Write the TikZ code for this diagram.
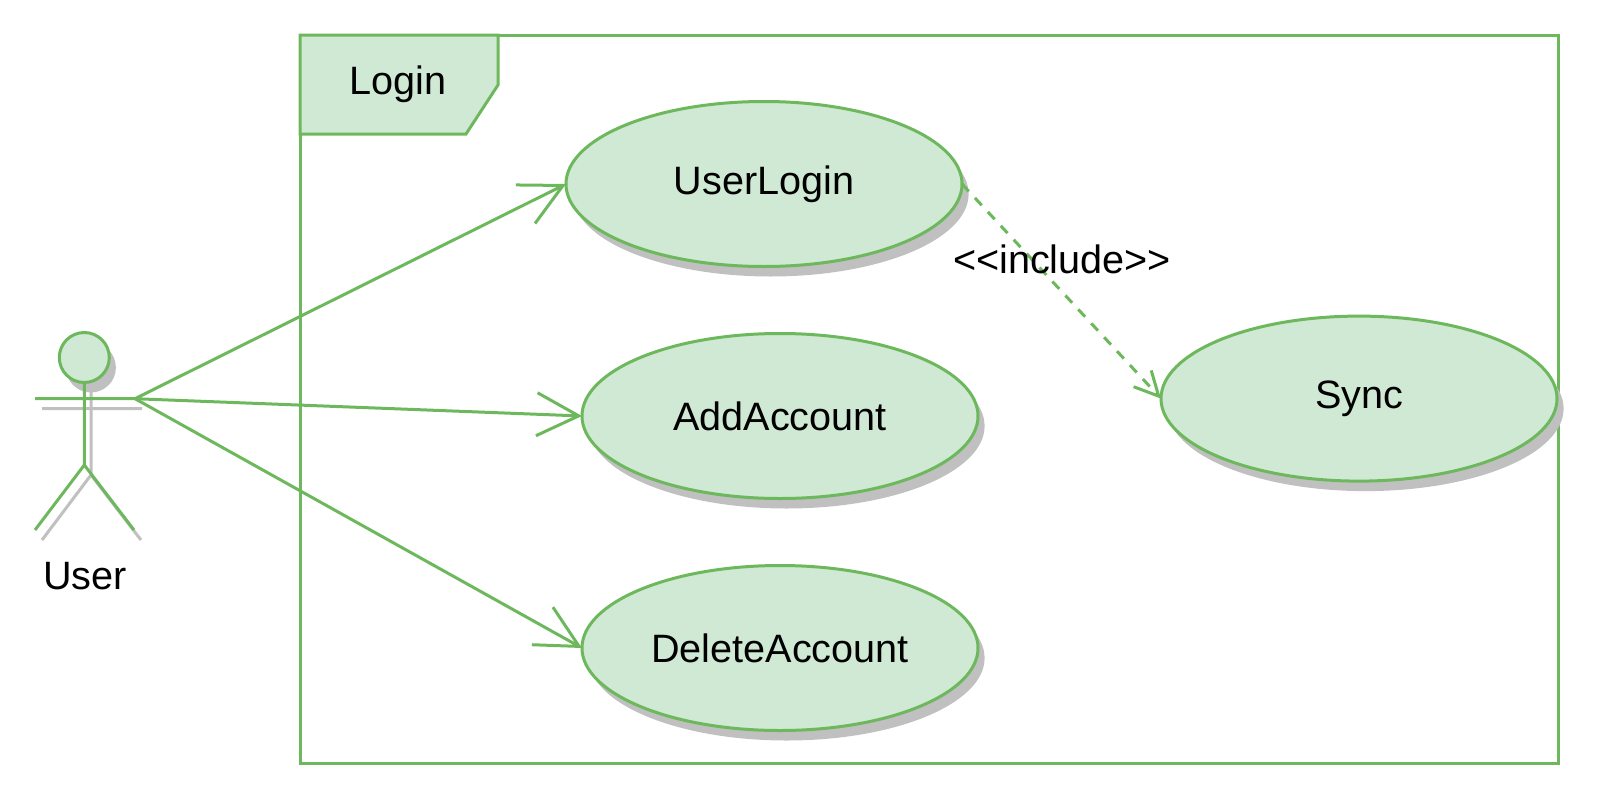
\documentclass[tikz,border=0pt]{standalone}
\usepackage{fontspec}
\setmainfont{Liberation Sans}
\usetikzlibrary{shapes.geometric,arrows.meta,shadows}
\definecolor{umlgreen}{HTML}{6DB85C}
\definecolor{umlfill}{HTML}{D0E9D4}
\definecolor{umlshadow}{HTML}{C0C0C0}

\begin{document}
\begin{tikzpicture}[x=0.5pt,y=-0.5pt,node distance=116pt,font=\fontsize{19.8pt}{23pt}\selectfont]
\tikzstyle{usecase} = [ellipse, draw=umlgreen, fill=umlfill, line width=1.5pt, minimum width=198pt, minimum height=82.5pt, inner sep=0pt, outer sep=0pt, drop shadow={shadow xshift=3.3pt, shadow yshift=-5pt, fill=umlshadow, opacity=1}]
\tikzstyle{frameline} = [draw=umlgreen, line width=1.5pt]
\tikzstyle{assoc} = [draw=umlgreen, line width=1.5pt, -{Straight Barb[length=21pt,width=21.5pt]}]
\tikzstyle{incl} = [draw=umlgreen, line width=1.5pt, dash pattern=on 5pt off 4.5pt, -{Straight Barb[length=12pt,width=12pt]}]
\tikzstyle{stickman} = [line width=1.5pt]
\useasboundingbox (0,0) rectangle (1600,798);
% frame and its tab
\draw[frameline] (300,35) rectangle (1558,763);
\draw[frameline, fill=umlfill] (300,35) -- (498,35) -- (498,85) -- (466,134) -- (300,134) -- cycle;
\node (Login) at (398,84) {Login};
% use cases
\node[usecase] (UserLogin) at (764,184) {UserLogin};
\node[usecase] (AddAccount) [below of=UserLogin, xshift=8pt] {AddAccount};
\node[usecase] (DeleteAccount) [below of=AddAccount] {DeleteAccount};
\node[usecase] (Sync) [right of=AddAccount, node distance=289.5pt, yshift=8.7pt] {Sync};
% actor, shadow first
\draw[stickman, umlshadow] (91,367.5) -- (91,475) (42,408.7) -- (142,408.7) (42,540) -- (91,475) -- (141,540);
\node[circle, draw=umlgreen, fill=umlfill, line width=1.5pt, minimum size=25pt, inner sep=0pt, outer sep=0pt, drop shadow={shadow xshift=3.3pt, shadow yshift=-5pt, fill=umlshadow, opacity=1}] (Head) at (84.3,357.5) {};
\coordinate (Hip) at (84.3,465);
\coordinate (HandL) at (35,398.7);
\coordinate (HandR) at (135,398.7);
\coordinate (FootL) at (35,530);
\coordinate (FootR) at (134,530);
\draw[stickman, umlgreen] (Head.south) -- (Hip) (HandL) -- (HandR) (FootL) -- (Hip) -- (FootR);
\node (User) at (85,576) {User};
% connectors
\path (HandR) edge[assoc] (UserLogin.west)
              edge[assoc] (AddAccount.west)
              edge[assoc] (DeleteAccount.west);
\path (UserLogin.east) edge[incl] (Sync.west);
\node (Include) at (1062,259) {{<}{<}include{>}{>}};
\end{tikzpicture}
\end{document}
